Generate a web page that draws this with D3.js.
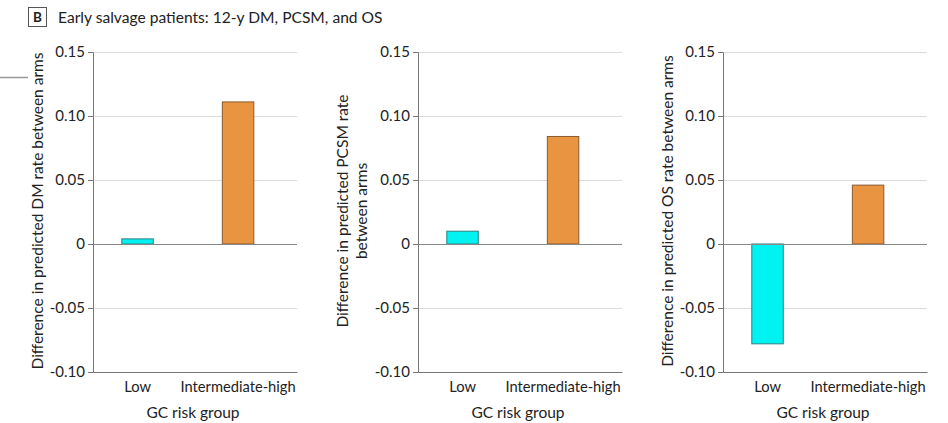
<!DOCTYPE html>
<html>
<head>
<meta charset="utf-8">
<script src="https://cdn.jsdelivr.net/npm/d3@7"></script>
<style>
  body { margin: 0; background: #fff; }
  text { font-family: Lato, "Open Sans", sans-serif; fill: #222; }
</style>
</head>
<body>
<div id="container"></div>
<script>
let w = 948;
let h = 423;

// data
let categories = ["Low", "Intermediate-high"];
let dmValues = [0.004, 0.111];
let pcsmValues = [0.010, 0.084];
let osValues = [-0.078, 0.046];
let yTicks = [-0.10, -0.05, 0, 0.05, 0.10, 0.15];
let yTickLabels = ["-0.10", "-0.05", "0", "0.05", "0.10", "0.15"];
let yTitles = [
  ["Difference in predicted DM rate between arms"],
  ["Difference in predicted PCSM rate", "between arms"],
  ["Difference in predicted OS rate between arms"]
];
let xTitle = "GC risk group";
let barColors = ["#00f3f0", "#e89441"];
let barStrokes = ["#2f7f7f", "#8a5a2e"];

let viz = d3.select("#container")
  .append("svg")
    .attr("width", w)
    .attr("height", h)
;

// header
viz.append("rect")
  .attr("x", 28.5).attr("y", 7.5)
  .attr("width", 18).attr("height", 19)
  .attr("fill", "none").attr("stroke", "#555").attr("stroke-width", 1);
viz.append("text")
  .attr("x", 37.5).attr("y", 22)
  .attr("text-anchor", "middle")
  .attr("font-size", 13.5).attr("font-weight", "bold")
  .text("B");
viz.append("text")
  .attr("x", 58).attr("y", 22.5)
  .attr("font-size", 15.6)
  .text("Early salvage patients: 12-y DM, PCSM, and OS");

// little stray rule at the left edge
viz.append("line")
  .attr("x1", 0).attr("x2", 28)
  .attr("y1", 77.5).attr("y2", 77.5)
  .attr("stroke", "#999").attr("stroke-width", 1.5);

let plotW = 204;
let panelX = [93, 418, 723];
let panelData = [dmValues, pcsmValues, osValues];

let yScale = d3.scaleLinear().domain([-0.10, 0.15]).range([372, 52]);

panelData.forEach(function(values, p){
  let x0 = panelX[p];
  let g = viz.append("g").attr("transform", "translate(" + x0 + ",0)");

  let xScale = d3.scaleBand()
    .domain(categories)
    .range([0, plotW])
    .paddingInner(0.687)
    .paddingOuter(0.358)
    .align(0.4);

  // gridlines
  g.selectAll(".grid").data(yTicks.filter(function(d){ return d !== -0.10 && d !== 0; }))
    .enter().append("line")
      .attr("class", "grid")
      .attr("x1", 0).attr("x2", plotW)
      .attr("y1", function(d){ return Math.round(yScale(d)) + 0.5; })
      .attr("y2", function(d){ return Math.round(yScale(d)) + 0.5; })
      .attr("stroke", "#dcdcdc").attr("stroke-width", 1.2);

  // bars
  g.selectAll(".bar").data(values)
    .enter().append("rect")
      .attr("class", "bar")
      .attr("x", function(d, i){ return xScale(categories[i]); })
      .attr("width", xScale.bandwidth())
      .attr("y", function(d){ return yScale(Math.max(0, d)); })
      .attr("height", function(d){ return Math.abs(yScale(d) - yScale(0)); })
      .attr("fill", function(d, i){ return barColors[i]; })
      .attr("stroke", function(d, i){ return barStrokes[i]; })
      .attr("stroke-width", 1);

  // zero line
  g.append("line")
    .attr("x1", 0).attr("x2", plotW)
    .attr("y1", Math.round(yScale(0)) + 0.5).attr("y2", Math.round(yScale(0)) + 0.5)
    .attr("stroke", "#888").attr("stroke-width", 1.2);

  // y axis
  let yAxis = d3.axisLeft(yScale)
    .tickValues(yTicks)
    .tickSize(5)
    .tickPadding(3)
    .tickFormat(function(d, i){ return yTickLabels[i]; });
  let yAxisGroup = g.append("g").attr("class", "yaxis").call(yAxis);
  yAxisGroup.select(".domain").attr("stroke", "#777").attr("d", "M-5,52.5H0.5V372.5");
  yAxisGroup.selectAll(".tick line").attr("stroke", "#777");
  yAxisGroup.selectAll(".tick text")
    .attr("font-family", "Lato, 'Open Sans', sans-serif")
    .attr("font-size", 15).attr("fill", "#222");

  // x axis
  let xAxis = d3.axisBottom(xScale).tickSize(0).tickPadding(10);
  let xAxisGroup = g.append("g").attr("class", "xaxis")
    .attr("transform", "translate(0,372)")
    .call(xAxis);
  xAxisGroup.select(".domain").attr("stroke", "#777").attr("stroke-width", 1.2);
  xAxisGroup.selectAll(".tick text")
    .attr("font-family", "Lato, 'Open Sans', sans-serif")
    .attr("font-size", 14.7).attr("fill", "#222");

  // x title
  g.append("text")
    .attr("x", 100).attr("y", 418)
    .attr("text-anchor", "middle")
    .attr("font-size", 15.5)
    .text(xTitle);

  // y title
  let lines = yTitles[p];
  let titleX = lines.length === 1 ? -50 : -70;
  lines.forEach(function(line, k){
    g.append("text")
      .attr("transform", "translate(" + (titleX + k * 19) + ",211) rotate(-90)")
      .attr("text-anchor", "middle")
      .attr("font-size", 15.5)
      .text(line);
  });
});
</script>
</body>
</html>
